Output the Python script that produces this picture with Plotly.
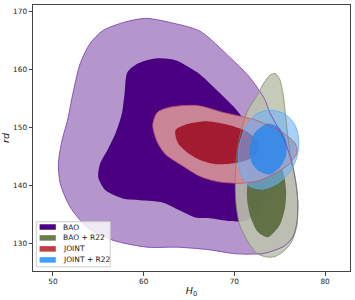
import plotly.graph_objects as go

# ---- contour outlines (H0, rd) ----
bao_outer_h0 = [60.2, 62.9, 66.2, 69.5, 71.5, 72.6, 73.4, 73.9, 74.8, 75.6, 76.2, 76.6, 76.9, 77.0, 76.9, 76.5,
                75.6, 74.5, 73.1, 71.2, 69.9, 67.0, 63.7, 60.4, 56.6, 53.8, 51.9, 50.8, 50.6, 51.0, 51.6, 52.2,
                53.0, 54.1, 55.5, 57.8]
bao_outer_rd = [168.8, 168.1, 166.6, 162.1, 159.0, 156.7, 154.7, 152.6, 150.0, 147.5, 144.7, 142.1, 139.2, 136.6,
                133.7, 131.3, 129.7, 128.9, 128.3, 128.2, 128.3, 129.0, 129.4, 129.4, 130.6, 132.8, 136.3, 140.4,
                143.8, 147.8, 151.2, 155.9, 161.0, 164.5, 166.7, 168.1]

bao_inner_h0 = [61.3, 63.5, 65.9, 67.9, 70.1, 71.7, 72.8, 73.5, 73.4, 72.6, 71.2, 69.5, 67.3, 65.7, 64.0, 62.1,
                59.6, 57.7, 55.8, 55.0, 55.2, 56.0, 56.9, 57.6, 57.9, 58.2, 59.3]
bao_inner_rd = [161.9, 161.6, 159.5, 156.7, 153.3, 149.9, 146.1, 141.8, 138.3, 135.4, 133.9, 133.9, 134.4, 134.5,
                135.7, 137.1, 137.5, 137.8, 139.2, 141.4, 143.8, 146.1, 149.0, 152.4, 155.9, 159.5, 161.0]

r22_outer_h0 = [74.5, 75.0, 75.4, 75.7, 76.1, 76.7, 77.0, 76.9, 76.4, 75.6, 74.5, 73.6, 72.5, 71.4, 70.6, 70.2,
                70.1, 70.2, 70.5, 71.0, 71.6, 72.5, 73.3, 73.9]
r22_outer_rd = [159.3, 158.3, 155.5, 151.2, 146.1, 141.4, 137.0, 133.2, 130.6, 128.9, 127.8, 127.7, 128.3, 130.6,
                133.2, 136.6, 140.4, 144.4, 147.8, 150.9, 153.3, 155.5, 157.8, 159.0]

r22_inner_h0 = [73.5, 74.6, 75.4, 75.7, 75.6, 75.0, 73.7, 72.6, 71.8, 71.4, 71.5, 71.9, 72.6]
r22_inner_rd = [145.6, 144.7, 142.3, 139.2, 136.3, 133.2, 131.1, 132.0, 134.5, 137.8, 141.3, 143.8, 145.0]

joint_outer_h0 = [61.0, 61.5, 62.9, 65.9, 68.8, 72.5, 75.4, 76.7, 76.9, 76.1, 74.7, 72.8, 70.6, 68.1, 66.2, 64.4,
                  62.4, 61.5]
joint_outer_rd = [150.4, 152.6, 153.5, 153.8, 152.6, 151.2, 149.0, 147.3, 145.7, 143.8, 142.3, 140.9, 140.4, 140.7,
                  141.6, 143.3, 145.4, 147.5]

joint_inner_h0 = [63.5, 64.8, 67.0, 69.5, 71.5, 72.6, 72.6, 71.7, 70.1, 67.9, 66.2, 64.9, 63.8]
joint_inner_rd = [149.5, 150.6, 151.1, 150.4, 149.2, 147.5, 145.9, 144.6, 143.9, 143.7, 144.4, 145.6, 147.3]

jr22_outer_h0 = [73.9, 75.6, 76.7, 77.1, 76.9, 76.1, 74.8, 73.1, 71.7, 70.8, 70.4, 70.6, 71.3, 72.4]
jr22_outer_rd = [153.0, 152.3, 150.4, 147.8, 144.9, 142.3, 140.4, 139.4, 139.9, 141.6, 144.4, 147.3, 150.4, 152.3]

jr22_inner_h0 = [73.7, 75.0, 75.7, 75.7, 75.1, 73.9, 72.7, 71.9, 71.7, 72.2]
jr22_inner_rd = [150.7, 149.9, 147.8, 145.2, 143.3, 141.9, 142.5, 144.0, 146.4, 149.0]

legend_labels = ["BAO", "BAO + R22", "JOINT", "JOINT + R22"]
legend_colors = ["#4b0082", "#6b7d4f", "#c04040", "#40a0ff"]

x_ticks = [50, 60, 70, 80]
y_ticks = [130, 140, 150, 160, 170]

SMOOTH = 0.75


def closed(a):
    return list(a) + [a[0]]


fig = go.Figure()


def region(xs, ys, fill):
    fig.add_trace(go.Scatter(x=closed(xs), y=closed(ys), mode="lines", fill="toself", fillcolor=fill,
                             line=dict(color="rgba(0,0,0,0)", width=0, shape="spline", smoothing=SMOOTH),
                             hoverinfo="skip", showlegend=False))


def outline(xs, ys, color, width=0.9):
    fig.add_trace(go.Scatter(x=closed(xs), y=closed(ys), mode="lines",
                             line=dict(color=color, width=width, shape="spline", smoothing=SMOOTH),
                             hoverinfo="skip", showlegend=False))


region(bao_outer_h0, bao_outer_rd, "rgba(75,0,130,0.41)")
region(bao_inner_h0, bao_inner_rd, "#4b0082")
region(r22_outer_h0, r22_outer_rd, "rgba(189,196,174,0.88)")
region(r22_inner_h0, r22_inner_rd, "rgba(88,104,58,0.9)")
region(joint_outer_h0, joint_outer_rd, "rgba(208,139,151,0.95)")
region(joint_inner_h0, joint_inner_rd, "rgb(163,27,48)")
region(jr22_outer_h0, jr22_outer_rd, "rgba(110,180,248,0.6)")
region(jr22_inner_h0, jr22_inner_rd, "rgba(45,135,235,0.85)")

outline(bao_outer_h0, bao_outer_rd, "rgba(115,60,175,0.9)")
outline(r22_outer_h0, r22_outer_rd, "rgba(120,135,90,0.8)")
outline(joint_outer_h0, joint_outer_rd, "rgba(190,80,95,0.8)")
outline(jr22_outer_h0, jr22_outer_rd, "rgba(90,170,245,0.9)")

# ---- legend (manual, matplotlib-like) ----
shapes = [dict(type="rect", xref="paper", yref="paper", x0=0.0104, x1=0.2436, y0=0.0158, y1=0.185,
               line=dict(color="#cccccc", width=1), fillcolor="rgba(255,255,255,0.8)", layer="above")]
annotations = []
row_y = [0.1654, 0.1244, 0.0831, 0.0417]
for lab, col, yc in zip(legend_labels, legend_colors, row_y):
    shapes.append(dict(type="rect", xref="paper", yref="paper", x0=0.0208, x1=0.0719,
                       y0=yc - 0.0103, y1=yc + 0.0103, line=dict(width=0), fillcolor=col, layer="above"))
    annotations.append(dict(xref="paper", yref="paper", x=0.0892, y=yc, text=lab, showarrow=False,
                            xanchor="left", yanchor="middle",
                            font=dict(family="DejaVu Sans", size=7.5, color="#222222")))

axis_common = dict(showgrid=False, zeroline=False, showline=True, mirror=True, linecolor="#444444",
                   linewidth=1, ticks="outside", ticklen=3.5, tickwidth=0.8, tickcolor="#444444",
                   automargin=False,
                   tickfont=dict(family="DejaVu Sans", size=7.3, color="#222222"))

fig.update_layout(
    width=355, height=300,
    margin=dict(l=33, r=5, t=5, b=29, autoexpand=False),
    paper_bgcolor="white", plot_bgcolor="white",
    xaxis=dict(range=[47.8, 82.75], tickvals=x_ticks, ticktext=[str(v) for v in x_ticks],
               title=dict(text="<i>H</i><sub>0</sub>", font=dict(family="DejaVu Sans", size=9.5, color="#111"),
                          standoff=2), **axis_common),
    yaxis=dict(range=[125.3, 171.1], tickvals=y_ticks, ticktext=[str(v) for v in y_ticks],
               title=dict(text="<i>rd</i>", font=dict(family="DejaVu Sans", size=9.5, color="#111"),
                          standoff=4), **axis_common),
    shapes=shapes, annotations=annotations,
    showlegend=False,
)

fig.write_html("out.html", config={"displayModeBar": False},
               post_script="document.body.style.margin='0px';document.body.style.padding='0px';")
